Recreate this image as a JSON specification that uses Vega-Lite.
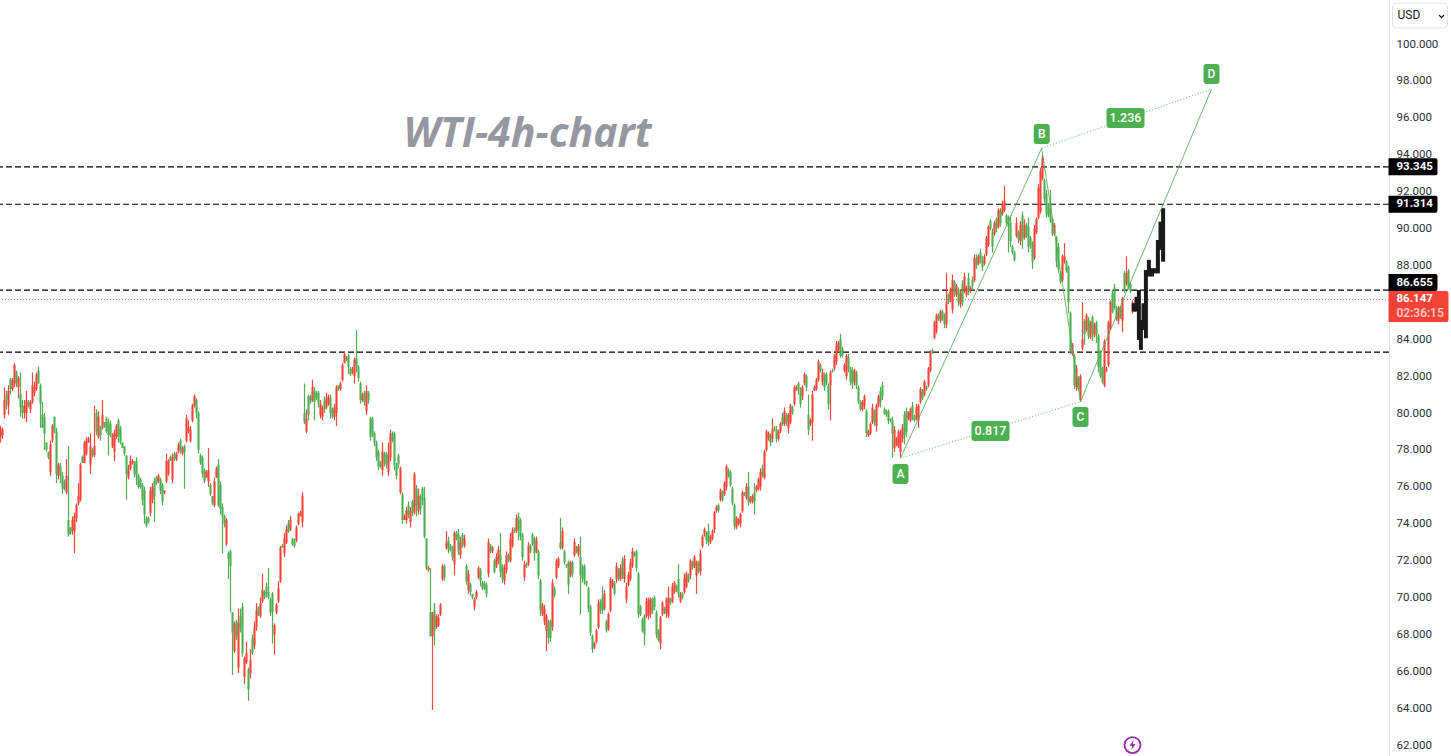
{"$schema":"https://vega.github.io/schema/vega-lite/v6.json","width":1389,"height":756,"autosize":"none","padding":{"left":0,"top":0,"right":62,"bottom":0},"background":"#ffffff","view":{"stroke":null},"config":{"axis":{"labelFont":"Roboto"},"text":{"font":"Roboto"}},"resolve":{"axis":{"y":"independent"}},
"datasets":{"candles":[
{"t":0,"o":78.7,"h":79.3,"l":78.4,"c":79.2},{"t":1,"o":78.8,"h":79.2,"l":78.6,"c":79.1},{"t":2,"o":79.9,"h":81.4,"l":79.7,"c":80.7},{"t":3,"o":81.0,"h":81.2,"l":80.2,"c":80.7},{"t":4,"o":80.4,"h":81.5,"l":79.9,"c":81.2},{"t":5,"o":81.8,"h":81.9,"l":81.0,"c":81.3},{"t":6,"o":81.3,"h":81.9,"l":81.2,"c":81.8},{"t":7,"o":81.6,"h":82.7,"l":81.4,"c":82.6},{"t":8,"o":82.2,"h":82.3,"l":81.4,"c":81.6},{"t":9,"o":81.4,"h":82.0,"l":80.8,"c":81.9},
{"t":10,"o":81.0,"h":82.2,"l":79.8,"c":80.3},{"t":11,"o":80.4,"h":80.7,"l":79.7,"c":80.0},{"t":12,"o":80.0,"h":80.7,"l":79.7,"c":80.4},{"t":13,"o":80.0,"h":81.2,"l":79.5,"c":80.7},{"t":14,"o":80.6,"h":80.7,"l":80.3,"c":80.4},{"t":15,"o":80.2,"h":80.7,"l":80.0,"c":80.6},{"t":16,"o":80.6,"h":82.2,"l":80.5,"c":81.5},{"t":17,"o":81.1,"h":81.7,"l":80.9,"c":81.4},{"t":18,"o":81.3,"h":82.2,"l":81.2,"c":82.1},{"t":19,"o":82.3,"h":82.5,"l":81.6,"c":81.6},
{"t":20,"o":81.5,"h":81.6,"l":79.2,"c":80.5},{"t":21,"o":79.9,"h":80.6,"l":79.2,"c":79.2},{"t":22,"o":79.8,"h":80.0,"l":78.0,"c":78.9},{"t":23,"o":78.4,"h":78.4,"l":77.9,"c":78.0},{"t":24,"o":77.9,"h":77.9,"l":77.5,"c":77.6},{"t":25,"o":76.8,"h":78.5,"l":76.6,"c":78.3},{"t":26,"o":78.5,"h":79.4,"l":78.4,"c":79.3},{"t":27,"o":79.8,"h":79.8,"l":78.9,"c":79.0},{"t":28,"o":79.0,"h":79.2,"l":76.2,"c":76.7},{"t":29,"o":76.6,"h":77.3,"l":76.4,"c":77.2},
{"t":30,"o":77.1,"h":77.3,"l":76.2,"c":76.6},{"t":31,"o":76.6,"h":76.8,"l":75.6,"c":75.9},{"t":32,"o":76.3,"h":76.4,"l":75.8,"c":75.9},{"t":33,"o":75.7,"h":77.5,"l":75.6,"c":76.6},{"t":34,"o":74.2,"h":78.2,"l":73.3,"c":73.4},{"t":35,"o":73.8,"h":73.8,"l":73.4,"c":73.5},{"t":36,"o":73.6,"h":74.4,"l":73.4,"c":74.2},{"t":37,"o":73.6,"h":74.6,"l":72.4,"c":74.4},{"t":38,"o":74.3,"h":75.1,"l":74.1,"c":75.0},{"t":39,"o":75.1,"h":76.2,"l":75.0,"c":75.5},
{"t":40,"o":75.3,"h":77.3,"l":75.2,"c":77.2},{"t":41,"o":77.6,"h":77.7,"l":77.3,"c":77.3},{"t":42,"o":77.3,"h":78.5,"l":77.3,"c":78.4},{"t":43,"o":77.8,"h":78.7,"l":77.7,"c":78.5},{"t":44,"o":78.4,"h":78.7,"l":78.4,"c":78.6},{"t":45,"o":77.2,"h":78.9,"l":76.7,"c":78.2},{"t":46,"o":78.0,"h":78.1,"l":77.6,"c":77.7},{"t":47,"o":77.7,"h":80.4,"l":77.6,"c":78.2},{"t":48,"o":80.0,"h":80.2,"l":78.8,"c":79.0},{"t":49,"o":78.7,"h":80.1,"l":78.6,"c":79.8},
{"t":50,"o":79.2,"h":79.3,"l":78.5,"c":78.8},{"t":51,"o":79.2,"h":80.7,"l":79.1,"c":79.9},{"t":52,"o":79.5,"h":79.5,"l":79.2,"c":79.3},{"t":53,"o":79.7,"h":79.8,"l":78.9,"c":79.0},{"t":54,"o":79.5,"h":79.7,"l":77.7,"c":78.8},{"t":55,"o":79.4,"h":79.6,"l":78.7,"c":78.8},{"t":56,"o":78.2,"h":78.9,"l":78.1,"c":78.8},{"t":57,"o":77.9,"h":79.1,"l":77.4,"c":78.9},{"t":58,"o":78.7,"h":79.4,"l":78.6,"c":79.3},{"t":59,"o":79.6,"h":79.7,"l":78.4,"c":78.7},
{"t":60,"o":79.2,"h":79.3,"l":78.3,"c":78.4},{"t":61,"o":78.4,"h":78.4,"l":78.1,"c":78.1},{"t":62,"o":78.2,"h":78.2,"l":77.7,"c":77.8},{"t":63,"o":77.7,"h":77.7,"l":75.3,"c":76.7},{"t":64,"o":76.5,"h":77.2,"l":76.4,"c":77.0},{"t":65,"o":77.0,"h":77.7,"l":76.9,"c":77.4},{"t":66,"o":77.3,"h":77.5,"l":77.2,"c":77.4},{"t":67,"o":77.3,"h":77.4,"l":76.5,"c":76.7},{"t":68,"o":77.4,"h":77.6,"l":76.1,"c":76.6},{"t":69,"o":76.6,"h":76.7,"l":75.9,"c":76.0},
{"t":70,"o":76.4,"h":76.5,"l":75.9,"c":76.0},{"t":71,"o":76.1,"h":76.2,"l":75.0,"c":75.3},{"t":72,"o":75.8,"h":76.0,"l":74.0,"c":74.5},{"t":73,"o":74.3,"h":74.4,"l":73.8,"c":73.9},{"t":74,"o":74.3,"h":74.4,"l":74.0,"c":74.1},{"t":75,"o":74.6,"h":76.0,"l":74.4,"c":75.8},{"t":76,"o":75.3,"h":76.2,"l":75.1,"c":76.0},{"t":77,"o":76.3,"h":76.5,"l":74.1,"c":75.5},{"t":78,"o":76.5,"h":76.6,"l":76.1,"c":76.2},{"t":79,"o":76.3,"h":76.7,"l":76.2,"c":76.6},
{"t":80,"o":76.4,"h":76.5,"l":75.6,"c":75.8},{"t":81,"o":76.1,"h":76.2,"l":75.0,"c":75.2},{"t":82,"o":75.7,"h":75.8,"l":75.6,"c":75.8},{"t":83,"o":76.3,"h":77.8,"l":76.2,"c":77.4},{"t":84,"o":76.7,"h":77.5,"l":76.6,"c":77.4},{"t":85,"o":77.6,"h":77.7,"l":77.4,"c":77.4},{"t":86,"o":76.4,"h":77.8,"l":76.2,"c":77.6},{"t":87,"o":77.8,"h":77.9,"l":77.4,"c":77.5},{"t":88,"o":77.5,"h":77.9,"l":77.4,"c":77.8},{"t":89,"o":77.9,"h":78.4,"l":77.8,"c":78.3},
{"t":90,"o":78.5,"h":78.6,"l":77.8,"c":78.0},{"t":91,"o":77.8,"h":78.2,"l":77.7,"c":78.1},{"t":92,"o":78.2,"h":78.3,"l":75.9,"c":77.9},{"t":93,"o":78.5,"h":79.9,"l":78.4,"c":79.7},{"t":94,"o":79.0,"h":79.6,"l":78.9,"c":79.2},{"t":95,"o":78.5,"h":79.3,"l":78.4,"c":79.1},{"t":96,"o":79.6,"h":80.5,"l":79.5,"c":80.4},{"t":97,"o":80.4,"h":81.0,"l":80.3,"c":80.9},{"t":98,"o":80.7,"h":80.8,"l":79.7,"c":80.0},{"t":99,"o":80.0,"h":80.1,"l":77.8,"c":78.0},
{"t":100,"o":77.7,"h":77.8,"l":77.2,"c":77.3},{"t":101,"o":77.6,"h":77.7,"l":76.5,"c":76.7},{"t":102,"o":76.9,"h":77.0,"l":76.2,"c":76.3},{"t":103,"o":76.5,"h":76.9,"l":76.5,"c":76.8},{"t":104,"o":76.3,"h":78.1,"l":76.0,"c":76.9},{"t":105,"o":76.1,"h":76.2,"l":75.5,"c":75.6},{"t":106,"o":75.5,"h":75.5,"l":75.0,"c":75.1},{"t":107,"o":75.0,"h":76.5,"l":74.9,"c":76.3},{"t":108,"o":76.5,"h":77.1,"l":76.5,"c":77.0},{"t":109,"o":77.2,"h":77.5,"l":74.9,"c":75.0},
{"t":110,"o":76.1,"h":76.3,"l":74.5,"c":74.8},{"t":111,"o":74.9,"h":75.1,"l":72.4,"c":74.4},{"t":112,"o":74.4,"h":74.5,"l":73.8,"c":74.0},{"t":113,"o":72.9,"h":74.3,"l":72.8,"c":74.2},{"t":114,"o":72.4,"h":72.5,"l":71.0,"c":72.1},{"t":115,"o":72.5,"h":72.6,"l":69.2,"c":71.7},{"t":116,"o":69.2,"h":69.2,"l":65.8,"c":68.1},{"t":117,"o":67.1,"h":68.7,"l":67.0,"c":68.6},{"t":118,"o":68.7,"h":68.8,"l":67.7,"c":67.9},{"t":119,"o":66.2,"h":69.4,"l":65.9,"c":68.6},
{"t":120,"o":69.0,"h":69.4,"l":68.1,"c":68.3},{"t":121,"o":69.5,"h":69.7,"l":66.8,"c":67.0},{"t":122,"o":65.7,"h":66.8,"l":65.3,"c":66.7},{"t":123,"o":66.5,"h":67.6,"l":66.4,"c":67.0},{"t":124,"o":66.1,"h":66.2,"l":64.4,"c":65.0},{"t":125,"o":65.9,"h":67.2,"l":65.6,"c":66.6},{"t":126,"o":67.8,"h":68.0,"l":66.9,"c":67.0},{"t":127,"o":67.4,"h":68.7,"l":67.2,"c":68.4},{"t":128,"o":68.4,"h":69.7,"l":68.2,"c":69.3},{"t":129,"o":69.5,"h":69.5,"l":69.0,"c":69.1},
{"t":130,"o":69.0,"h":70.0,"l":68.9,"c":69.7},{"t":131,"o":69.8,"h":71.3,"l":69.7,"c":70.4},{"t":132,"o":70.3,"h":70.4,"l":69.9,"c":70.0},{"t":133,"o":70.6,"h":70.8,"l":70.0,"c":70.2},{"t":134,"o":70.3,"h":71.6,"l":69.9,"c":70.0},{"t":135,"o":69.9,"h":70.0,"l":69.0,"c":69.2},{"t":136,"o":70.2,"h":70.3,"l":67.5,"c":69.2},{"t":137,"o":68.0,"h":68.6,"l":66.9,"c":68.5},{"t":138,"o":69.2,"h":69.7,"l":69.1,"c":69.6},{"t":139,"o":69.8,"h":70.9,"l":69.7,"c":70.5},
{"t":140,"o":70.9,"h":72.8,"l":70.8,"c":72.7},{"t":141,"o":72.8,"h":72.9,"l":72.7,"c":72.7},{"t":142,"o":72.4,"h":73.5,"l":72.2,"c":73.2},{"t":143,"o":73.0,"h":73.9,"l":72.9,"c":73.7},{"t":144,"o":74.0,"h":74.2,"l":73.5,"c":73.6},{"t":145,"o":73.7,"h":74.4,"l":73.6,"c":74.2},{"t":146,"o":73.2,"h":73.2,"l":72.8,"c":72.9},{"t":147,"o":73.1,"h":73.2,"l":72.7,"c":72.8},{"t":148,"o":73.1,"h":73.9,"l":73.0,"c":73.8},{"t":149,"o":74.0,"h":74.6,"l":73.9,"c":74.5},
{"t":150,"o":74.4,"h":74.7,"l":74.4,"c":74.6},{"t":151,"o":74.1,"h":75.7,"l":73.8,"c":75.5},
{"t":152,"o":80.0,"h":81.6,"l":79.4,"c":79.5},{"t":153,"o":79.0,"h":80.2,"l":78.9,"c":79.7},{"t":154,"o":80.9,"h":81.0,"l":79.6,"c":79.9},{"t":155,"o":80.9,"h":81.0,"l":80.5,"c":80.6},{"t":156,"o":80.7,"h":81.8,"l":80.6,"c":81.4},{"t":157,"o":81.2,"h":81.4,"l":79.6,"c":80.6},{"t":158,"o":81.1,"h":81.2,"l":80.7,"c":80.8},{"t":159,"o":81.1,"h":81.2,"l":80.3,"c":80.5},{"t":160,"o":79.9,"h":80.7,"l":79.7,"c":80.5},{"t":161,"o":79.8,"h":80.4,"l":79.6,"c":80.3},
{"t":162,"o":80.7,"h":80.9,"l":80.0,"c":80.2},{"t":163,"o":80.3,"h":81.1,"l":80.2,"c":80.8},{"t":164,"o":80.5,"h":81.0,"l":80.4,"c":80.9},{"t":165,"o":80.8,"h":81.0,"l":79.7,"c":80.0},{"t":166,"o":80.2,"h":80.3,"l":79.7,"c":79.8},{"t":167,"o":79.8,"h":80.5,"l":79.6,"c":80.3},{"t":168,"o":80.0,"h":81.5,"l":79.3,"c":81.4},{"t":169,"o":81.5,"h":81.5,"l":81.2,"c":81.3},{"t":170,"o":81.3,"h":81.7,"l":81.2,"c":81.6},{"t":171,"o":81.8,"h":82.7,"l":81.7,"c":82.6},
{"t":172,"o":82.7,"h":83.3,"l":82.7,"c":83.2},{"t":173,"o":83.0,"h":83.1,"l":82.8,"c":82.9},{"t":174,"o":83.1,"h":83.2,"l":82.1,"c":82.5},{"t":175,"o":82.4,"h":82.5,"l":82.0,"c":82.1},{"t":176,"o":82.2,"h":82.5,"l":82.1,"c":82.4},{"t":177,"o":82.0,"h":83.0,"l":81.6,"c":82.9},{"t":178,"o":83.0,"h":84.5,"l":82.2,"c":82.5},{"t":179,"o":82.5,"h":82.6,"l":81.7,"c":81.9},{"t":180,"o":81.6,"h":81.7,"l":80.5,"c":80.7},{"t":181,"o":80.7,"h":81.1,"l":80.6,"c":81.0},
{"t":182,"o":81.1,"h":81.2,"l":80.4,"c":80.6},{"t":183,"o":80.1,"h":81.5,"l":79.9,"c":81.2},{"t":184,"o":81.1,"h":81.2,"l":80.5,"c":80.7},{"t":185,"o":79.7,"h":79.8,"l":78.5,"c":78.7},{"t":186,"o":79.7,"h":79.8,"l":78.7,"c":78.9},{"t":187,"o":78.9,"h":79.0,"l":78.2,"c":78.4},{"t":188,"o":78.4,"h":78.5,"l":77.4,"c":77.6},{"t":189,"o":77.9,"h":78.0,"l":76.9,"c":77.1},{"t":190,"o":77.3,"h":77.4,"l":77.0,"c":77.1},{"t":191,"o":76.9,"h":78.4,"l":76.6,"c":77.9},
{"t":192,"o":77.8,"h":77.9,"l":77.1,"c":77.3},{"t":193,"o":77.8,"h":77.9,"l":77.0,"c":77.2},{"t":194,"o":76.8,"h":78.4,"l":76.6,"c":77.7},{"t":195,"o":77.6,"h":79.1,"l":77.4,"c":78.9},{"t":196,"o":78.9,"h":79.0,"l":78.4,"c":78.5},{"t":197,"o":78.9,"h":79.0,"l":76.9,"c":77.2},{"t":198,"o":77.2,"h":77.3,"l":76.4,"c":76.6},{"t":199,"o":77.7,"h":77.8,"l":77.0,"c":77.2},{"t":200,"o":75.7,"h":77.1,"l":75.6,"c":77.0},{"t":201,"o":75.6,"h":75.7,"l":74.0,"c":74.2},
{"t":202,"o":74.2,"h":74.5,"l":74.2,"c":74.4},{"t":203,"o":74.2,"h":74.9,"l":74.0,"c":74.7},{"t":204,"o":75.0,"h":75.2,"l":74.3,"c":74.5},{"t":205,"o":74.1,"h":74.9,"l":73.8,"c":74.7},{"t":206,"o":75.2,"h":75.3,"l":74.4,"c":74.6},{"t":207,"o":74.6,"h":76.8,"l":74.5,"c":76.7},{"t":208,"o":75.9,"h":76.1,"l":74.4,"c":75.0},{"t":209,"o":74.7,"h":75.9,"l":74.5,"c":75.5},{"t":210,"o":75.5,"h":75.6,"l":74.5,"c":74.8},{"t":211,"o":75.9,"h":76.0,"l":75.0,"c":75.3},
{"t":212,"o":75.4,"h":76.0,"l":73.2,"c":73.3},{"t":213,"o":73.2,"h":73.2,"l":71.5,"c":71.6},{"t":214,"o":71.5,"h":71.7,"l":71.4,"c":71.6},{"t":215,"o":69.2,"h":71.6,"l":67.9,"c":67.9},{"t":216,"o":67.9,"h":69.2,"l":63.9,"c":69.2},{"t":217,"o":69.3,"h":69.7,"l":67.4,"c":68.2},{"t":218,"o":68.4,"h":69.1,"l":68.3,"c":69.0},{"t":219,"o":68.5,"h":69.1,"l":68.4,"c":68.9},{"t":220,"o":69.1,"h":69.7,"l":69.0,"c":69.6},{"t":221,"o":71.0,"h":71.8,"l":70.9,"c":71.7},
{"t":222,"o":71.7,"h":71.8,"l":70.9,"c":71.1},{"t":223,"o":72.7,"h":73.6,"l":72.6,"c":73.0},{"t":224,"o":73.1,"h":73.3,"l":72.4,"c":72.6},{"t":225,"o":72.8,"h":72.9,"l":72.5,"c":72.6},{"t":226,"o":72.7,"h":72.8,"l":72.0,"c":72.2},{"t":227,"o":71.8,"h":73.6,"l":71.2,"c":73.5},{"t":228,"o":73.5,"h":73.6,"l":73.1,"c":73.2},{"t":229,"o":73.4,"h":73.7,"l":72.3,"c":72.6},{"t":230,"o":72.3,"h":73.3,"l":72.1,"c":73.0},{"t":231,"o":73.4,"h":73.5,"l":72.7,"c":72.9},
{"t":232,"o":72.8,"h":73.4,"l":72.7,"c":73.2},{"t":233,"o":71.7,"h":71.8,"l":70.7,"c":70.9},{"t":234,"o":70.4,"h":71.5,"l":70.2,"c":71.3},{"t":235,"o":70.7,"h":70.8,"l":70.1,"c":70.3},{"t":236,"o":70.2,"h":70.2,"l":69.9,"c":70.0},{"t":237,"o":69.5,"h":70.0,"l":69.3,"c":69.9},{"t":238,"o":70.0,"h":70.4,"l":69.9,"c":70.3},{"t":239,"o":71.1,"h":71.7,"l":71.0,"c":71.6},{"t":240,"o":71.5,"h":71.6,"l":70.6,"c":70.9},{"t":241,"o":70.8,"h":70.9,"l":70.4,"c":70.5},
{"t":242,"o":70.8,"h":70.9,"l":70.4,"c":70.5},{"t":243,"o":70.7,"h":70.8,"l":70.0,"c":70.2},{"t":244,"o":71.3,"h":73.2,"l":71.1,"c":73.0},{"t":245,"o":72.8,"h":72.9,"l":72.4,"c":72.5},{"t":246,"o":72.5,"h":72.8,"l":72.4,"c":72.7},{"t":247,"o":72.0,"h":72.1,"l":71.3,"c":71.4},{"t":248,"o":71.7,"h":72.4,"l":71.6,"c":72.2},{"t":249,"o":72.0,"h":72.8,"l":71.8,"c":72.6},{"t":250,"o":72.3,"h":73.5,"l":71.1,"c":71.4},{"t":251,"o":71.7,"h":71.8,"l":70.8,"c":71.0},
{"t":252,"o":70.9,"h":71.8,"l":70.7,"c":71.6},{"t":253,"o":71.5,"h":72.5,"l":71.3,"c":72.3},{"t":254,"o":72.3,"h":72.4,"l":71.9,"c":72.0},{"t":255,"o":72.0,"h":73.5,"l":71.9,"c":73.2},{"t":256,"o":72.8,"h":73.8,"l":72.7,"c":73.6},{"t":257,"o":73.7,"h":73.8,"l":73.5,"c":73.6},{"t":258,"o":73.6,"h":74.5,"l":73.5,"c":74.3},{"t":259,"o":74.4,"h":74.6,"l":73.1,"c":73.7},{"t":260,"o":74.2,"h":74.3,"l":73.1,"c":73.3},{"t":261,"o":73.4,"h":73.5,"l":72.0,"c":72.2},
{"t":262,"o":71.1,"h":72.0,"l":70.9,"c":71.8},{"t":263,"o":71.8,"h":71.9,"l":71.6,"c":71.7},{"t":264,"o":71.8,"h":73.0,"l":71.7,"c":72.8},{"t":265,"o":72.8,"h":72.9,"l":72.4,"c":72.5},{"t":266,"o":73.4,"h":73.5,"l":72.8,"c":72.9},{"t":267,"o":73.2,"h":73.3,"l":72.0,"c":72.4},{"t":268,"o":72.5,"h":73.3,"l":72.4,"c":73.1},{"t":269,"o":72.5,"h":72.6,"l":71.0,"c":71.2},{"t":270,"o":70.9,"h":71.0,"l":69.0,"c":69.3},{"t":271,"o":69.1,"h":69.7,"l":69.0,"c":69.6},
{"t":272,"o":68.7,"h":69.6,"l":68.5,"c":69.4},{"t":273,"o":68.2,"h":69.1,"l":67.1,"c":69.0},{"t":274,"o":68.7,"h":68.8,"l":67.5,"c":67.8},{"t":275,"o":68.7,"h":68.8,"l":67.6,"c":67.8},{"t":276,"o":68.4,"h":71.0,"l":68.2,"c":70.8},{"t":277,"o":70.5,"h":70.6,"l":70.0,"c":70.1},{"t":278,"o":71.1,"h":72.1,"l":71.0,"c":72.0},{"t":279,"o":71.7,"h":72.2,"l":71.6,"c":72.1},{"t":280,"o":73.0,"h":74.3,"l":72.6,"c":72.7},{"t":281,"o":72.7,"h":73.8,"l":72.6,"c":73.6},
{"t":282,"o":72.5,"h":72.6,"l":71.8,"c":71.9},{"t":283,"o":71.8,"h":71.8,"l":71.6,"c":71.7},{"t":284,"o":71.9,"h":72.0,"l":70.2,"c":70.7},{"t":285,"o":71.2,"h":72.0,"l":71.1,"c":71.9},{"t":286,"o":71.9,"h":72.0,"l":71.1,"c":71.3},{"t":287,"o":72.3,"h":73.2,"l":72.2,"c":73.0},{"t":288,"o":72.7,"h":72.8,"l":72.4,"c":72.5},{"t":289,"o":72.3,"h":72.9,"l":72.2,"c":72.8},{"t":290,"o":72.2,"h":73.3,"l":69.1,"c":71.2},{"t":291,"o":71.7,"h":71.8,"l":70.8,"c":71.0},
{"t":292,"o":71.7,"h":71.8,"l":70.7,"c":70.9},{"t":293,"o":70.9,"h":70.9,"l":70.6,"c":70.7},{"t":294,"o":70.5,"h":70.6,"l":69.2,"c":69.4},{"t":295,"o":69.5,"h":69.6,"l":67.9,"c":68.1},{"t":296,"o":67.9,"h":68.0,"l":67.0,"c":67.2},{"t":297,"o":67.3,"h":67.6,"l":67.2,"c":67.5},{"t":298,"o":67.6,"h":68.3,"l":67.5,"c":68.2},{"t":299,"o":68.4,"h":69.9,"l":68.3,"c":69.7},{"t":300,"o":69.8,"h":69.9,"l":69.1,"c":69.3},{"t":301,"o":70.0,"h":70.6,"l":69.1,"c":69.3},
{"t":302,"o":69.4,"h":70.4,"l":69.3,"c":70.2},{"t":303,"o":68.7,"h":68.8,"l":68.1,"c":68.2},{"t":304,"o":68.3,"h":69.2,"l":68.2,"c":69.1},{"t":305,"o":69.3,"h":71.1,"l":69.2,"c":71.0},{"t":306,"o":70.6,"h":71.0,"l":70.5,"c":70.9},{"t":307,"o":70.8,"h":70.9,"l":70.1,"c":70.2},{"t":308,"o":71.0,"h":71.9,"l":70.8,"c":71.7},{"t":309,"o":71.5,"h":71.6,"l":70.9,"c":71.0},{"t":310,"o":71.0,"h":71.8,"l":70.9,"c":71.6},{"t":311,"o":72.0,"h":72.2,"l":71.0,"c":71.2},
{"t":312,"o":71.0,"h":72.3,"l":70.8,"c":72.1},{"t":313,"o":69.9,"h":70.8,"l":69.7,"c":70.6},{"t":314,"o":70.7,"h":71.4,"l":70.6,"c":71.2},{"t":315,"o":71.0,"h":72.1,"l":70.9,"c":71.9},{"t":316,"o":71.7,"h":72.7,"l":71.6,"c":72.5},{"t":317,"o":72.4,"h":72.5,"l":72.2,"c":72.3},{"t":318,"o":72.5,"h":72.6,"l":71.4,"c":71.6},{"t":319,"o":71.3,"h":71.4,"l":68.9,"c":69.1},{"t":320,"o":69.5,"h":69.6,"l":69.0,"c":69.1},{"t":321,"o":68.8,"h":68.9,"l":68.1,"c":68.2},
{"t":322,"o":69.0,"h":69.1,"l":67.4,"c":68.0},{"t":323,"o":69.0,"h":70.0,"l":68.9,"c":69.8},{"t":324,"o":69.0,"h":70.0,"l":68.8,"c":69.9},{"t":325,"o":69.1,"h":70.0,"l":68.9,"c":69.9},{"t":326,"o":69.9,"h":70.0,"l":69.1,"c":69.3},{"t":327,"o":70.0,"h":70.1,"l":69.3,"c":69.5},{"t":328,"o":69.2,"h":69.3,"l":67.8,"c":68.0},{"t":329,"o":68.2,"h":68.3,"l":67.6,"c":67.7},{"t":330,"o":67.5,"h":69.0,"l":67.2,"c":68.9},{"t":331,"o":69.1,"h":69.8,"l":69.0,"c":69.7},
{"t":332,"o":69.4,"h":69.5,"l":69.1,"c":69.2},{"t":333,"o":69.1,"h":70.0,"l":68.9,"c":69.9},{"t":334,"o":69.0,"h":70.6,"l":68.9,"c":70.0},{"t":335,"o":69.9,"h":70.0,"l":69.6,"c":69.7},{"t":336,"o":69.8,"h":70.8,"l":69.7,"c":70.6},{"t":337,"o":70.3,"h":70.9,"l":70.2,"c":70.8},{"t":338,"o":70.6,"h":70.7,"l":70.3,"c":70.4},{"t":339,"o":71.0,"h":71.8,"l":70.0,"c":70.2},{"t":340,"o":69.8,"h":70.3,"l":69.7,"c":70.2},{"t":341,"o":70.2,"h":70.3,"l":69.9,"c":70.0},
{"t":342,"o":70.3,"h":71.3,"l":70.2,"c":71.1},{"t":343,"o":70.6,"h":71.4,"l":70.5,"c":71.3},{"t":344,"o":71.2,"h":71.3,"l":70.8,"c":70.9},{"t":345,"o":71.2,"h":72.1,"l":71.0,"c":72.0},{"t":346,"o":71.9,"h":72.0,"l":71.5,"c":71.6},{"t":347,"o":71.7,"h":72.3,"l":71.6,"c":72.2},{"t":348,"o":71.2,"h":72.0,"l":70.2,"c":71.9},{"t":349,"o":71.9,"h":72.0,"l":71.3,"c":71.4},{"t":350,"o":71.4,"h":72.6,"l":71.2,"c":72.4},{"t":351,"o":72.8,"h":73.4,"l":72.7,"c":73.3},
{"t":352,"o":73.4,"h":73.8,"l":73.3,"c":73.7},{"t":353,"o":73.5,"h":73.6,"l":72.9,"c":73.1},{"t":354,"o":73.6,"h":74.0,"l":72.8,"c":73.0},{"t":355,"o":73.0,"h":73.4,"l":72.9,"c":73.3},{"t":356,"o":73.2,"h":73.7,"l":73.1,"c":73.6},{"t":357,"o":73.7,"h":74.7,"l":73.5,"c":74.6},{"t":358,"o":74.7,"h":75.0,"l":74.6,"c":74.9},{"t":359,"o":75.0,"h":75.1,"l":74.6,"c":74.7},{"t":360,"o":75.3,"h":75.9,"l":75.2,"c":75.8},{"t":361,"o":75.7,"h":75.8,"l":75.2,"c":75.3},
{"t":362,"o":75.6,"h":76.3,"l":75.5,"c":76.2},{"t":363,"o":76.0,"h":77.2,"l":75.8,"c":77.1},{"t":364,"o":76.9,"h":77.0,"l":76.5,"c":76.6},{"t":365,"o":76.8,"h":76.9,"l":76.0,"c":76.1},{"t":366,"o":75.9,"h":76.0,"l":75.0,"c":75.1},{"t":367,"o":75.0,"h":75.1,"l":73.7,"c":73.9},{"t":368,"o":73.8,"h":74.4,"l":73.7,"c":74.3},{"t":369,"o":74.0,"h":74.3,"l":73.9,"c":74.2},{"t":370,"o":74.0,"h":74.6,"l":73.8,"c":74.5},{"t":371,"o":74.7,"h":75.8,"l":74.6,"c":75.7},
{"t":372,"o":75.7,"h":75.7,"l":75.5,"c":75.6},{"t":373,"o":75.4,"h":76.2,"l":75.3,"c":76.0},{"t":374,"o":76.0,"h":76.8,"l":75.0,"c":75.2},{"t":375,"o":75.2,"h":75.5,"l":75.1,"c":75.4},{"t":376,"o":75.2,"h":75.6,"l":75.1,"c":75.5},{"t":377,"o":75.7,"h":76.2,"l":74.5,"c":75.2},{"t":378,"o":75.8,"h":76.1,"l":75.7,"c":76.0},{"t":379,"o":75.9,"h":76.5,"l":75.8,"c":76.4},{"t":380,"o":76.0,"h":77.0,"l":75.8,"c":76.8},{"t":381,"o":77.0,"h":77.2,"l":76.5,"c":76.6},
{"t":382,"o":76.5,"h":78.0,"l":76.4,"c":77.9},{"t":383,"o":78.0,"h":79.1,"l":77.9,"c":79.0},{"t":384,"o":78.6,"h":79.0,"l":78.5,"c":78.9},{"t":385,"o":78.8,"h":78.9,"l":78.2,"c":78.4},{"t":386,"o":78.6,"h":79.7,"l":78.4,"c":79.1},{"t":387,"o":79.2,"h":79.3,"l":79.0,"c":79.1},{"t":388,"o":79.1,"h":79.3,"l":78.4,"c":78.6},{"t":389,"o":78.6,"h":79.1,"l":78.5,"c":79.0},{"t":390,"o":79.0,"h":79.5,"l":78.9,"c":79.4},{"t":391,"o":79.8,"h":80.0,"l":79.3,"c":79.4},
{"t":392,"o":79.4,"h":80.3,"l":79.3,"c":80.1},{"t":393,"o":79.9,"h":80.0,"l":79.3,"c":79.5},{"t":394,"o":79.2,"h":80.0,"l":78.9,"c":79.9},{"t":395,"o":79.5,"h":80.5,"l":79.4,"c":80.4},{"t":396,"o":80.3,"h":80.4,"l":79.9,"c":80.0},{"t":397,"o":80.5,"h":81.5,"l":80.4,"c":81.4},{"t":398,"o":81.3,"h":81.5,"l":81.2,"c":81.4},{"t":399,"o":81.6,"h":81.7,"l":81.0,"c":81.2},{"t":400,"o":81.2,"h":81.4,"l":80.3,"c":80.5},{"t":401,"o":80.9,"h":81.5,"l":80.7,"c":81.4},
{"t":402,"o":81.6,"h":82.2,"l":81.5,"c":82.1},{"t":403,"o":82.0,"h":82.1,"l":81.2,"c":81.4},{"t":404,"o":79.9,"h":81.0,"l":78.8,"c":79.1},{"t":405,"o":79.4,"h":79.7,"l":79.3,"c":79.6},{"t":406,"o":79.5,"h":81.2,"l":78.5,"c":81.0},{"t":407,"o":81.2,"h":81.5,"l":81.2,"c":81.4},{"t":408,"o":81.3,"h":81.9,"l":81.2,"c":81.8},{"t":409,"o":81.8,"h":82.9,"l":81.7,"c":82.8},{"t":410,"o":82.6,"h":82.7,"l":82.2,"c":82.3},{"t":411,"o":81.7,"h":82.4,"l":81.5,"c":82.2},
{"t":412,"o":82.1,"h":82.2,"l":81.2,"c":81.4},{"t":413,"o":82.1,"h":82.2,"l":81.5,"c":81.6},{"t":414,"o":81.5,"h":81.6,"l":80.2,"c":80.5},{"t":415,"o":81.5,"h":82.3,"l":79.6,"c":82.2},{"t":416,"o":82.3,"h":82.4,"l":82.2,"c":82.2},{"t":417,"o":82.4,"h":83.2,"l":82.3,"c":83.1},{"t":418,"o":82.8,"h":83.9,"l":82.6,"c":83.7},{"t":419,"o":83.4,"h":83.9,"l":83.3,"c":83.8},{"t":420,"o":84.0,"h":84.3,"l":83.0,"c":83.1},{"t":421,"o":83.5,"h":83.6,"l":83.0,"c":83.1},
{"t":422,"o":82.3,"h":82.7,"l":82.2,"c":82.6},{"t":423,"o":82.0,"h":83.2,"l":81.8,"c":83.1},{"t":424,"o":83.0,"h":83.2,"l":82.2,"c":82.4},{"t":425,"o":82.4,"h":82.5,"l":81.5,"c":81.7},{"t":426,"o":82.3,"h":82.5,"l":81.3,"c":81.6},{"t":427,"o":81.7,"h":82.4,"l":81.5,"c":82.3},{"t":428,"o":82.2,"h":82.3,"l":81.3,"c":81.5},{"t":429,"o":81.4,"h":81.5,"l":80.5,"c":80.6},{"t":430,"o":80.6,"h":80.7,"l":80.1,"c":80.2},{"t":431,"o":80.2,"h":80.7,"l":80.1,"c":80.6},
{"t":432,"o":80.4,"h":81.0,"l":80.2,"c":80.9},{"t":433,"o":80.1,"h":80.2,"l":78.7,"c":78.9},{"t":434,"o":78.8,"h":79.1,"l":78.7,"c":79.0},{"t":435,"o":78.9,"h":79.5,"l":78.8,"c":79.4},{"t":436,"o":79.5,"h":80.5,"l":79.4,"c":80.3},{"t":437,"o":80.1,"h":80.2,"l":79.3,"c":79.5},{"t":438,"o":79.3,"h":80.5,"l":79.0,"c":80.4},{"t":439,"o":80.4,"h":81.0,"l":80.3,"c":80.9},{"t":440,"o":81.2,"h":81.4,"l":80.3,"c":80.6},{"t":441,"o":81.5,"h":81.7,"l":80.7,"c":80.9},
{"t":442,"o":80.2,"h":80.3,"l":79.9,"c":80.0},{"t":443,"o":80.1,"h":80.2,"l":79.8,"c":79.9},{"t":444,"o":80.1,"h":80.2,"l":79.4,"c":79.6},{"t":445,"o":79.7,"h":79.7,"l":79.5,"c":79.6},{"t":446,"o":79.6,"h":79.8,"l":77.6,"c":78.9},{"t":447,"o":78.1,"h":79.3,"l":77.9,"c":79.1},{"t":448,"o":78.3,"h":78.7,"l":78.2,"c":78.6},{"t":449,"o":78.2,"h":79.1,"l":78.1,"c":79.0},{"t":450,"o":77.9,"h":79.1,"l":77.6,"c":78.9},{"t":451,"o":78.6,"h":79.4,"l":78.4,"c":79.2},
{"t":452,"o":79.9,"h":80.1,"l":78.3,"c":78.8},{"t":453,"o":80.1,"h":80.3,"l":78.7,"c":79.0},{"t":454,"o":79.7,"h":80.1,"l":79.6,"c":80.0},{"t":455,"o":79.6,"h":80.3,"l":79.5,"c":80.2},{"t":456,"o":80.4,"h":80.6,"l":79.6,"c":79.8},{"t":457,"o":79.8,"h":79.9,"l":79.5,"c":79.6},{"t":458,"o":79.7,"h":80.5,"l":79.6,"c":80.3},{"t":459,"o":79.6,"h":80.5,"l":79.2,"c":80.4},{"t":460,"o":80.6,"h":81.4,"l":80.5,"c":81.3},{"t":461,"o":81.2,"h":81.3,"l":80.7,"c":80.8},
{"t":462,"o":81.0,"h":81.8,"l":80.9,"c":81.7},{"t":463,"o":81.4,"h":81.5,"l":81.2,"c":81.3},{"t":464,"o":81.5,"h":82.5,"l":81.4,"c":82.4},{"t":465,"o":82.3,"h":83.4,"l":82.2,"c":83.3},{"t":466,"o":83.4,"h":83.5,"l":83.2,"c":83.3},{"t":467,"o":84.1,"h":85.0,"l":84.0,"c":84.9},{"t":468,"o":84.4,"h":85.4,"l":84.3,"c":85.3},{"t":469,"o":85.3,"h":85.4,"l":85.0,"c":85.1},{"t":470,"o":85.0,"h":85.6,"l":84.9,"c":85.5},{"t":471,"o":85.5,"h":85.6,"l":85.0,"c":85.1},
{"t":472,"o":85.3,"h":85.4,"l":84.6,"c":84.8},{"t":473,"o":84.8,"h":87.6,"l":84.6,"c":86.0},{"t":474,"o":86.4,"h":86.5,"l":85.9,"c":86.0},{"t":475,"o":86.1,"h":86.8,"l":86.0,"c":86.7},{"t":476,"o":85.6,"h":87.5,"l":85.4,"c":87.2},{"t":477,"o":87.1,"h":87.2,"l":86.3,"c":86.5},{"t":478,"o":86.4,"h":87.0,"l":86.3,"c":86.9},{"t":479,"o":86.7,"h":86.8,"l":85.8,"c":86.0},{"t":480,"o":85.9,"h":86.7,"l":85.7,"c":86.5},{"t":481,"o":87.0,"h":87.2,"l":85.8,"c":86.0},
{"t":482,"o":86.6,"h":87.6,"l":86.5,"c":87.4},{"t":483,"o":86.4,"h":86.9,"l":86.3,"c":86.8},{"t":484,"o":87.3,"h":87.6,"l":86.4,"c":86.6},{"t":485,"o":86.6,"h":86.9,"l":86.5,"c":86.8},{"t":486,"o":87.2,"h":87.4,"l":86.7,"c":86.9},{"t":487,"o":87.2,"h":88.6,"l":87.1,"c":88.4},{"t":488,"o":88.4,"h":88.6,"l":87.8,"c":88.0},{"t":489,"o":88.1,"h":88.6,"l":88.0,"c":88.5},{"t":490,"o":88.7,"h":88.9,"l":88.1,"c":88.3},{"t":491,"o":88.3,"h":88.5,"l":87.7,"c":87.9},
{"t":492,"o":88.1,"h":88.6,"l":88.0,"c":88.5},{"t":493,"o":88.6,"h":89.6,"l":88.5,"c":89.5},{"t":494,"o":89.1,"h":90.2,"l":89.0,"c":90.1},{"t":495,"o":90.4,"h":90.5,"l":89.9,"c":90.0},{"t":496,"o":89.8,"h":90.0,"l":88.7,"c":89.0},{"t":497,"o":89.7,"h":90.4,"l":89.6,"c":90.3},{"t":498,"o":90.5,"h":90.6,"l":89.8,"c":90.0},{"t":499,"o":90.1,"h":91.1,"l":90.0,"c":91.0},{"t":500,"o":91.0,"h":91.1,"l":90.1,"c":90.3},{"t":501,"o":90.8,"h":91.5,"l":90.7,"c":91.3},
{"t":502,"o":91.0,"h":92.3,"l":90.9,"c":91.5},{"t":503,"o":90.7,"h":90.8,"l":90.2,"c":90.3},{"t":504,"o":90.6,"h":90.7,"l":88.7,"c":90.1},{"t":505,"o":90.3,"h":90.7,"l":89.0,"c":89.3},{"t":506,"o":89.0,"h":89.1,"l":88.6,"c":88.7},{"t":507,"o":88.7,"h":88.8,"l":88.2,"c":88.3},{"t":508,"o":89.6,"h":90.6,"l":89.5,"c":90.3},{"t":509,"o":89.8,"h":89.9,"l":89.2,"c":89.4},{"t":510,"o":89.3,"h":90.4,"l":89.1,"c":90.2},{"t":511,"o":90.7,"h":90.9,"l":88.9,"c":89.4},
{"t":512,"o":89.5,"h":90.5,"l":89.4,"c":90.2},{"t":513,"o":90.2,"h":90.3,"l":89.5,"c":89.6},{"t":514,"o":90.1,"h":90.6,"l":88.7,"c":89.0},{"t":515,"o":89.5,"h":89.6,"l":88.9,"c":89.1},{"t":516,"o":89.2,"h":89.3,"l":87.8,"c":88.2},{"t":517,"o":88.4,"h":90.2,"l":88.3,"c":90.0},{"t":518,"o":89.8,"h":90.6,"l":89.7,"c":90.5},{"t":519,"o":90.6,"h":92.4,"l":90.5,"c":92.2},{"t":520,"o":90.9,"h":93.3,"l":90.8,"c":93.1},{"t":521,"o":92.7,"h":94.0,"l":92.6,"c":93.8},
{"t":522,"o":92.6,"h":92.7,"l":91.4,"c":91.6},{"t":523,"o":91.9,"h":92.1,"l":90.6,"c":90.8},{"t":524,"o":91.3,"h":91.4,"l":90.6,"c":90.7},{"t":525,"o":91.4,"h":92.1,"l":90.3,"c":90.4},{"t":526,"o":90.5,"h":90.6,"l":89.6,"c":89.7},{"t":527,"o":89.7,"h":90.3,"l":89.6,"c":90.2},{"t":528,"o":89.5,"h":89.6,"l":87.9,"c":88.2},{"t":529,"o":89.0,"h":89.2,"l":87.6,"c":87.8},{"t":530,"o":87.6,"h":87.7,"l":87.0,"c":87.1},{"t":531,"o":87.2,"h":88.6,"l":87.1,"c":88.5},
{"t":532,"o":88.2,"h":89.2,"l":88.1,"c":88.5},{"t":533,"o":88.2,"h":88.3,"l":87.6,"c":87.7},{"t":534,"o":87.9,"h":88.0,"l":85.4,"c":86.0},{"t":535,"o":85.4,"h":85.5,"l":83.2,"c":83.3},{"t":536,"o":83.2,"h":83.8,"l":83.1,"c":83.7},{"t":537,"o":83.1,"h":83.2,"l":81.3,"c":81.5},{"t":538,"o":81.4,"h":82.6,"l":81.2,"c":82.4},{"t":539,"o":81.9,"h":82.0,"l":81.2,"c":81.3},{"t":540,"o":80.7,"h":82.1,"l":80.6,"c":82.0},{"t":541,"o":83.5,"h":86.0,"l":83.4,"c":84.0},
{"t":542,"o":85.0,"h":85.1,"l":83.7,"c":84.3},{"t":543,"o":84.5,"h":85.4,"l":84.4,"c":85.3},{"t":544,"o":85.1,"h":85.2,"l":84.0,"c":84.2},{"t":545,"o":84.1,"h":85.0,"l":84.0,"c":84.9},{"t":546,"o":85.2,"h":85.3,"l":83.9,"c":84.3},{"t":547,"o":84.2,"h":84.9,"l":84.1,"c":84.8},{"t":548,"o":84.9,"h":85.0,"l":83.8,"c":84.3},{"t":549,"o":84.2,"h":84.3,"l":82.2,"c":82.5},{"t":550,"o":83.3,"h":83.4,"l":81.9,"c":82.0},{"t":551,"o":82.4,"h":82.5,"l":81.6,"c":81.7},
{"t":552,"o":81.5,"h":84.0,"l":81.4,"c":83.9},{"t":553,"o":82.3,"h":82.5,"l":82.2,"c":82.4},{"t":554,"o":82.6,"h":85.0,"l":82.5,"c":84.9},{"t":555,"o":84.6,"h":86.1,"l":84.5,"c":86.0},{"t":556,"o":86.5,"h":86.7,"l":85.4,"c":85.5},{"t":557,"o":86.8,"h":87.0,"l":85.6,"c":85.7},{"t":558,"o":85.7,"h":85.8,"l":85.0,"c":85.1},{"t":559,"o":85.0,"h":85.8,"l":84.8,"c":85.7},{"t":560,"o":85.7,"h":85.8,"l":85.1,"c":85.2},{"t":561,"o":85.0,"h":86.3,"l":84.4,"c":86.2},
{"t":562,"o":87.6,"h":87.7,"l":86.5,"c":86.6},{"t":563,"o":87.0,"h":88.5,"l":86.9,"c":87.6},{"t":564,"o":87.7,"h":87.8,"l":86.7,"c":86.8},{"t":565,"o":87.0,"h":87.1,"l":86.5,"c":86.6},{"t":566,"o":85.5,"h":86.1,"l":85.4,"c":86.0}
],
"future":[{"t":566.7,"h":85.95,"l":85.5},{"t":568,"h":86.3,"l":85.5},{"t":569.2,"h":86.67,"l":83.96},{"t":570.2,"h":85.04,"l":83.42},{"t":571.5,"h":85.95,"l":84.5},{"t":572.7,"h":87.75,"l":84.05},{"t":574.2,"h":88.3,"l":87.4},{"t":575.8,"h":87.85,"l":87.4},{"t":577.5,"h":87.85,"l":87.57},{"t":578.7,"h":89.38,"l":87.57},{"t":580,"h":90.37,"l":88.84},{"t":581.3,"h":91.1,"l":88.2}],
"pattern":[{"leg":"AB","t":450,"p":77.55},{"leg":"AB","t":520.6,"p":94.35},{"leg":"BC","t":520.6,"p":94.35},{"leg":"BC","t":540,"p":80.62},{"leg":"CD","t":540,"p":80.62},{"leg":"CD","t":605.5,"p":97.56}],
"ratios":[{"leg":"AC","t":450,"p":77.55},{"leg":"AC","t":540,"p":80.62},{"leg":"BD","t":520.6,"p":94.35},{"leg":"BD","t":605.5,"p":97.56}],
"points":[{"label":"A","t":450,"p":76.69},{"label":"B","t":520.6,"p":95.12},{"label":"C","t":540,"p":79.78},{"label":"D","t":605.5,"p":98.37}],
"ratioLabels":[{"label":"0.817","t":495,"p":79.02},{"label":"1.236","t":562.5,"p":95.99}],
"levels":[{"p":93.345},{"p":91.314},{"p":86.655},{"p":83.3}],
"tags":[{"label":"93.345","t":698,"p":93.345,"box":706.25},{"label":"91.314","t":698,"p":91.314,"box":706.25},{"label":"86.655","t":698,"p":87.07,"box":706.25}]},
"layer":[
{"data":{"name":"levels"},"mark":{"type":"rule","color":"#000000","strokeWidth":1.2,"strokeDash":[6,3]},"encoding":{"y":{"field":"p","type":"quantitative","scale":{"domain":[61.41,102.385],"nice":false,"zero":false},"axis":{"orient":"right","title":null,"values":[62,64,66,68,70,72,74,76,78,80,82,84,86,88,90,92,94,96,98,100],"format":".3f","ticks":false,"grid":false,"domainColor":"#e0e3eb","domainWidth":1,"labelColor":"#2a2e39","labelFontSize":11.5,"labelPadding":7,"labelOverlap":false,"labelBound":false,"labelFlush":false}}}},
{"data":{"values":[{"p":86.147}]},"mark":{"type":"rule","color":"#f44336","strokeWidth":1,"strokeDash":[1,2],"opacity":0.85},"encoding":{"y":{"field":"p","type":"quantitative","scale":{"domain":[61.41,102.385],"nice":false,"zero":false},"axis":null}}},
{"data":{"name":"candles"},"mark":{"type":"rule","strokeWidth":1.2},"encoding":{"x":{"field":"t","type":"quantitative","scale":{"domain":[-0.25,694.25],"nice":false,"zero":false,"padding":0},"axis":null},"y":{"field":"l","type":"quantitative","scale":{"domain":[61.41,102.385],"nice":false,"zero":false},"axis":null},"y2":{"field":"h"},"color":{"condition":{"test":"datum.c>=datum.o","value":"#f44336"},"value":"#4caf50"}}},
{"data":{"name":"candles"},"mark":{"type":"bar","width":2,"orient":"vertical"},"encoding":{"x":{"field":"t","type":"quantitative","scale":{"domain":[-0.25,694.25],"nice":false,"zero":false,"padding":0},"axis":null},"y":{"field":"o","type":"quantitative","scale":{"domain":[61.41,102.385],"nice":false,"zero":false},"axis":null},"y2":{"field":"c"},"color":{"condition":{"test":"datum.c>=datum.o","value":"#f44336"},"value":"#4caf50"}}},
{"data":{"name":"future"},"mark":{"type":"bar","width":4,"orient":"vertical","color":"#1a1a1a"},"encoding":{"x":{"field":"t","type":"quantitative","scale":{"domain":[-0.25,694.25],"nice":false,"zero":false,"padding":0},"axis":null},"y":{"field":"l","type":"quantitative","scale":{"domain":[61.41,102.385],"nice":false,"zero":false},"axis":null},"y2":{"field":"h"}}},
{"data":{"name":"pattern"},"mark":{"type":"line","color":"#4caf50","strokeWidth":1,"opacity":0.85},"encoding":{"detail":{"field":"leg"},"x":{"field":"t","type":"quantitative","scale":{"domain":[-0.25,694.25],"nice":false,"zero":false,"padding":0},"axis":null},"y":{"field":"p","type":"quantitative","scale":{"domain":[61.41,102.385],"nice":false,"zero":false},"axis":null}}},
{"data":{"name":"ratios"},"mark":{"type":"line","color":"#4caf50","strokeWidth":1,"strokeDash":[1,2],"opacity":0.9},"encoding":{"detail":{"field":"leg"},"x":{"field":"t","type":"quantitative","scale":{"domain":[-0.25,694.25],"nice":false,"zero":false,"padding":0},"axis":null},"y":{"field":"p","type":"quantitative","scale":{"domain":[61.41,102.385],"nice":false,"zero":false},"axis":null}}},
{"data":{"name":"points"},"mark":{"type":"point","filled":true,"opacity":1,"color":"#4caf50","size":400,"shape":"M-0.5,-1H0.5Q0.8,-1 0.8,-0.7V0.7Q0.8,1 0.5,1H-0.5Q-0.8,1 -0.8,0.7V-0.7Q-0.8,-1 -0.5,-1Z"},"encoding":{"x":{"field":"t","type":"quantitative","scale":{"domain":[-0.25,694.25],"nice":false,"zero":false,"padding":0},"axis":null},"y":{"field":"p","type":"quantitative","scale":{"domain":[61.41,102.385],"nice":false,"zero":false},"axis":null}}},
{"data":{"name":"ratioLabels"},"mark":{"type":"point","filled":true,"opacity":1,"color":"#4caf50","size":400,"shape":"M-1.6,-1H1.6Q1.9,-1 1.9,-0.7V0.7Q1.9,1 1.6,1H-1.6Q-1.9,1 -1.9,0.7V-0.7Q-1.9,-1 -1.6,-1Z"},"encoding":{"x":{"field":"t","type":"quantitative","scale":{"domain":[-0.25,694.25],"nice":false,"zero":false,"padding":0},"axis":null},"y":{"field":"p","type":"quantitative","scale":{"domain":[61.41,102.385],"nice":false,"zero":false},"axis":null}}},
{"data":{"name":"points"},"mark":{"type":"text","color":"#ffffff","fontSize":12,"fontWeight":500,"baseline":"middle"},"encoding":{"text":{"field":"label"},"x":{"field":"t","type":"quantitative","scale":{"domain":[-0.25,694.25],"nice":false,"zero":false,"padding":0},"axis":null},"y":{"field":"p","type":"quantitative","scale":{"domain":[61.41,102.385],"nice":false,"zero":false},"axis":null}}},
{"data":{"name":"ratioLabels"},"mark":{"type":"text","color":"#ffffff","fontSize":12.5,"fontWeight":500,"baseline":"middle"},"encoding":{"text":{"field":"label"},"x":{"field":"t","type":"quantitative","scale":{"domain":[-0.25,694.25],"nice":false,"zero":false,"padding":0},"axis":null},"y":{"field":"p","type":"quantitative","scale":{"domain":[61.41,102.385],"nice":false,"zero":false},"axis":null}}},
{"data":{"values":[{"label":"WTI-4h-chart","t":263.5,"p":95.07}]},"mark":{"type":"text","font":"Open Sans","fontSize":41,"fontStyle":"italic","fontWeight":"bold","color":"#9598a1","baseline":"middle"},"encoding":{"text":{"field":"label"},"x":{"field":"t","type":"quantitative","scale":{"domain":[-0.25,694.25],"nice":false,"zero":false,"padding":0},"axis":null},"y":{"field":"p","type":"quantitative","scale":{"domain":[61.41,102.385],"nice":false,"zero":false},"axis":null}}},
{"data":{"name":"tags"},"mark":{"type":"point","filled":true,"opacity":1,"color":"#000000","size":289,"shape":"M-2.88,-1H2.65Q2.88,-1 2.88,-0.77V0.77Q2.88,1 2.65,1H-2.88Z"},"encoding":{"x":{"field":"box","type":"quantitative","scale":{"domain":[-0.25,694.25],"nice":false,"zero":false,"padding":0},"axis":null},"y":{"field":"p","type":"quantitative","scale":{"domain":[61.41,102.385],"nice":false,"zero":false},"axis":null}}},
{"data":{"name":"tags"},"mark":{"type":"text","color":"#ffffff","fontSize":11.5,"fontWeight":"bold","align":"left","baseline":"middle"},"encoding":{"text":{"field":"label"},"x":{"field":"t","type":"quantitative","scale":{"domain":[-0.25,694.25],"nice":false,"zero":false,"padding":0},"axis":null},"y":{"field":"p","type":"quantitative","scale":{"domain":[61.41,102.385],"nice":false,"zero":false},"axis":null}}},
{"data":{"values":[{"t":709,"p":85.77}]},"mark":{"type":"point","filled":true,"opacity":1,"color":"#f44336","size":961,"shape":"M-1.935,-1H1.8Q1.935,-1 1.935,-0.87V0.87Q1.935,1 1.8,1H-1.935Z"},"encoding":{"x":{"field":"t","type":"quantitative","scale":{"domain":[-0.25,694.25],"nice":false,"zero":false,"padding":0},"axis":null},"y":{"field":"p","type":"quantitative","scale":{"domain":[61.41,102.385],"nice":false,"zero":false},"axis":null}}},
{"data":{"values":[{"label":"86.147","t":698,"p":86.18}]},"mark":{"type":"text","color":"#ffffff","fontSize":11.5,"fontWeight":"bold","align":"left","baseline":"middle"},"encoding":{"text":{"field":"label"},"x":{"field":"t","type":"quantitative","scale":{"domain":[-0.25,694.25],"nice":false,"zero":false,"padding":0},"axis":null},"y":{"field":"p","type":"quantitative","scale":{"domain":[61.41,102.385],"nice":false,"zero":false},"axis":null}}},
{"data":{"values":[{"label":"02:36:15","t":698,"p":85.4}]},"mark":{"type":"text","color":"#ffffff","opacity":0.75,"fontSize":12,"fontWeight":500,"align":"left","baseline":"middle"},"encoding":{"text":{"field":"label"},"x":{"field":"t","type":"quantitative","scale":{"domain":[-0.25,694.25],"nice":false,"zero":false,"padding":0},"axis":null},"y":{"field":"p","type":"quantitative","scale":{"domain":[61.41,102.385],"nice":false,"zero":false},"axis":null}}},
{"data":{"values":[{"t":709.75,"p":101.545}]},"mark":{"type":"point","filled":false,"opacity":1,"fill":"#ffffff","stroke":"#e0e3eb","strokeWidth":1,"size":625,"shape":"M-1.88,-1H1.88Q2.2,-1 2.2,-0.68V0.68Q2.2,1 1.88,1H-1.88Q-2.2,1 -2.2,0.68V-0.68Q-2.2,-1 -1.88,-1Z"},"encoding":{"x":{"field":"t","type":"quantitative","scale":{"domain":[-0.25,694.25],"nice":false,"zero":false,"padding":0},"axis":null},"y":{"field":"p","type":"quantitative","scale":{"domain":[61.41,102.385],"nice":false,"zero":false},"axis":null}}},
{"data":{"values":[{"label":"USD","t":698.5,"p":101.55}]},"mark":{"type":"text","color":"#131722","fontSize":12,"align":"left","baseline":"middle"},"encoding":{"text":{"field":"label"},"x":{"field":"t","type":"quantitative","scale":{"domain":[-0.25,694.25],"nice":false,"zero":false,"padding":0},"axis":null},"y":{"field":"p","type":"quantitative","scale":{"domain":[61.41,102.385],"nice":false,"zero":false},"axis":null}}},
{"data":{"values":[{"t":720.5,"p":101.5}]},"mark":{"type":"point","filled":false,"opacity":1,"stroke":"#131722","strokeWidth":1.2,"size":36,"shape":"M-0.8,-0.4L0,0.4L0.8,-0.4"},"encoding":{"x":{"field":"t","type":"quantitative","scale":{"domain":[-0.25,694.25],"nice":false,"zero":false,"padding":0},"axis":null},"y":{"field":"p","type":"quantitative","scale":{"domain":[61.41,102.385],"nice":false,"zero":false},"axis":null}}},
{"data":{"values":[{"t":566,"p":62.0}]},"mark":{"type":"point","filled":false,"opacity":1,"fill":"#ffffff","stroke":"#9c27b0","strokeWidth":1.8,"size":254,"shape":"circle"},"encoding":{"x":{"field":"t","type":"quantitative","scale":{"domain":[-0.25,694.25],"nice":false,"zero":false,"padding":0},"axis":null},"y":{"field":"p","type":"quantitative","scale":{"domain":[61.41,102.385],"nice":false,"zero":false},"axis":null}}},
{"data":{"values":[{"t":566,"p":62.0}]},"mark":{"type":"point","filled":true,"opacity":1,"color":"#9c27b0","size":100,"shape":"M0.25,-1L-0.6,0.15H-0.05L-0.25,1L0.6,-0.2H0.05Z"},"encoding":{"x":{"field":"t","type":"quantitative","scale":{"domain":[-0.25,694.25],"nice":false,"zero":false,"padding":0},"axis":null},"y":{"field":"p","type":"quantitative","scale":{"domain":[61.41,102.385],"nice":false,"zero":false},"axis":null}}}
]}
